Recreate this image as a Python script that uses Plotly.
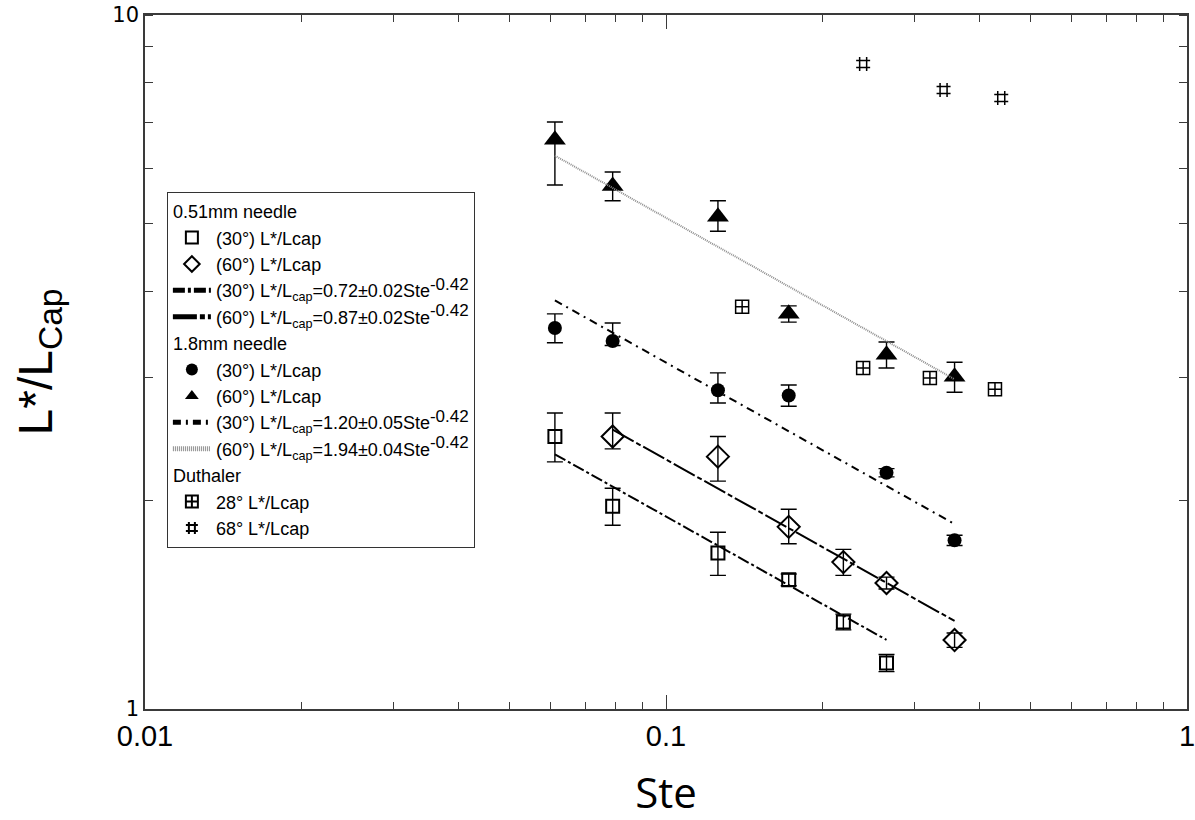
import plotly.graph_objects as go

# ---- 0.51 mm needle -------------------------------------------------------
ste_a30 = [0.0612, 0.079, 0.1258, 0.172, 0.219, 0.265]
lcap_a30 = [2.47, 1.96, 1.678, 1.535, 1.335, 1.165]
err_a30 = [0.20, 0.12, 0.12, 0.03, 0.035, 0.033]

ste_a60 = [0.079, 0.1258, 0.172, 0.219, 0.265, 0.358]
lcap_a60 = [2.47, 2.31, 1.83, 1.628, 1.519, 1.257]
err_a60_up = [0.20, 0.16, 0.11, 0.07, 0.03, 0.03]
err_a60_dn = [0.10, 0.18, 0.10, 0.07, 0.03, 0.03]

# ---- 1.8 mm needle --------------------------------------------------------
ste_b30 = [0.0612, 0.079, 0.1258, 0.172, 0.265, 0.358]
lcap_b30 = [3.54, 3.39, 2.88, 2.83, 2.19, 1.75]
err_b30_up = [0.17, 0.21, 0.17, 0.10, 0.03, 0.03]
err_b30_dn = [0.17, 0.05, 0.12, 0.10, 0.03, 0.03]

ste_b60 = [0.0612, 0.079, 0.1258, 0.172, 0.265, 0.358]
lcap_b60 = [6.61, 5.67, 5.12, 3.71, 3.24, 3.01]
err_b60_up = [0.40, 0.27, 0.28, 0.10, 0.14, 0.15]
err_b60_dn = [0.92, 0.27, 0.24, 0.10, 0.14, 0.15]

# ---- Duthaler -------------------------------------------------------------
ste_d28 = [0.140, 0.239, 0.321, 0.428]
lcap_d28 = [3.80, 3.10, 3.00, 2.89]
ste_d68 = [0.239, 0.341, 0.440]
lcap_d68 = [8.50, 7.80, 7.59]

# ---- power-law fits  L*/Lcap = a * Ste^b ----------------------------------
fit_exp = -0.42
fit_a30, fit_a60, fit_b30, fit_b60 = 0.72, 0.87, 1.20, 1.94
fit_range_a30 = [0.0612, 0.265]
fit_range_a60 = [0.079, 0.358]
fit_range_b30 = [0.0612, 0.358]
fit_range_b60 = [0.0612, 0.358]


def power_fit(a, xr):
    return xr, [a * x ** fit_exp for x in xr]


def fit_label(angle, coef):
    return (f"({angle}°) L*/L<sub>cap</sub>={coef}Ste"
            f"<sup><span style='font-size:17px'>{fit_exp:.2f}</span></sup>")


BLACK = "#000000"
LEG_FONT = dict(family="Liberation Sans, Arial, sans-serif", size=18, color=BLACK)


def err(up, dn=None):
    d = dict(type="data", array=up, color=BLACK, thickness=1.4, width=8, visible=True)
    if dn is not None:
        d["symmetric"] = False
        d["arrayminus"] = dn
    return d


fig = go.Figure()

# group: 0.51 mm needle
fig.add_trace(go.Scatter(
    x=ste_a30, y=lcap_a30, mode="markers", name="(30°) L*/Lcap",
    legendgroup="a", legendgrouptitle=dict(text="0.51mm needle", font=LEG_FONT),
    marker=dict(symbol="square-open", size=13, color=BLACK, line=dict(width=2, color=BLACK)),
    error_y=err(err_a30)))
fig.add_trace(go.Scatter(
    x=ste_a60, y=lcap_a60, mode="markers", name="(60°) L*/Lcap", legendgroup="a",
    marker=dict(symbol="diamond-open", size=17, color=BLACK, line=dict(width=2, color=BLACK)),
    error_y=err(err_a60_up, err_a60_dn)))
x, y = power_fit(fit_a30, fit_range_a30)
fig.add_trace(go.Scatter(
    x=x, y=y, mode="lines", legendgroup="a", name=fit_label(30, "0.72±0.02"),
    line=dict(color=BLACK, width=2, dash="12px,3px,3px,3px")))
x, y = power_fit(fit_a60, fit_range_a60)
fig.add_trace(go.Scatter(
    x=x, y=y, mode="lines", legendgroup="a", name=fit_label(60, "0.87±0.02"),
    line=dict(color=BLACK, width=2, dash="24px,3px,5px,3px")))

# group: 1.8 mm needle
fig.add_trace(go.Scatter(
    x=ste_b30, y=lcap_b30, mode="markers", name="(30°) L*/Lcap",
    legendgroup="b", legendgrouptitle=dict(text="1.8mm needle", font=LEG_FONT),
    marker=dict(symbol="circle", size=14, color=BLACK),
    error_y=err(err_b30_up, err_b30_dn)))
fig.add_trace(go.Scatter(
    x=ste_b60, y=lcap_b60, mode="markers", name="(60°) L*/Lcap", legendgroup="b",
    marker=dict(symbol="triangle-up", size=19, color=BLACK),
    error_y=err(err_b60_up, err_b60_dn)))
x, y = power_fit(fit_b30, fit_range_b30)
fig.add_trace(go.Scatter(
    x=x, y=y, mode="lines", legendgroup="b", name=fit_label(30, "1.20±0.05"),
    line=dict(color=BLACK, width=2, dash="8px,5px,2px,5px")))
x, y = power_fit(fit_b60, fit_range_b60)
fig.add_trace(go.Scatter(
    x=x, y=y, mode="lines", legendgroup="b", name=fit_label(60, "1.94±0.04"),
    line=dict(color="#8c8c8c", width=2, dash="1px,1px")))

# group: Duthaler
fig.add_trace(go.Scatter(
    x=ste_d28, y=lcap_d28, mode="markers", name="28° L*/Lcap",
    legendgroup="c", legendgrouptitle=dict(text="Duthaler", font=LEG_FONT),
    marker=dict(symbol="square-cross-open", size=13, color=BLACK, line=dict(width=1.5, color=BLACK))))
fig.add_trace(go.Scatter(
    x=ste_d68, y=lcap_d68, mode="markers", name="68° L*/Lcap", legendgroup="c",
    marker=dict(symbol="hash-open", size=14, color=BLACK, line=dict(width=1.5, color=BLACK))))

AXIS_COLOR = "#3a3a3a"

fig.update_xaxes(
    type="log", range=[-2, 0], automargin=False,
    showline=True, linecolor=AXIS_COLOR, linewidth=1.5, mirror="ticks",
    tickvals=[0.01, 0.1, 1], ticktext=["0.01", "0.1", "1"],
    ticks="inside", ticklen=14, tickwidth=1.3, tickcolor=AXIS_COLOR,
    minor=dict(ticks="inside", ticklen=7, tickwidth=1.3, tickcolor=AXIS_COLOR, dtick="D1", showgrid=False),
    showgrid=False, zeroline=False, ticklabeloverflow="allow",
    tickfont=dict(family="Liberation Sans Narrow, Liberation Sans, sans-serif", size=29, color=BLACK),
    title=dict(text="Ste", standoff=28,
               font=dict(family="Open Sans, sans-serif", size=42, color=BLACK)),
)
fig.update_yaxes(
    type="log", range=[0, 1], automargin=False,
    showline=True, linecolor=AXIS_COLOR, linewidth=1.5, mirror="ticks",
    tickvals=[1, 10], ticktext=["1", "10"],
    ticks="", ticklabeloverflow="allow",
    minor=dict(ticks="inside", ticklen=8, tickwidth=1.3, tickcolor=AXIS_COLOR, dtick="D1", showgrid=False),
    showgrid=False, zeroline=False,
    tickfont=dict(family="DejaVu Sans, sans-serif", size=21, color=BLACK),
    title=dict(text="L*/L<sub>Cap</sub>", standoff=45,
               font=dict(family="Liberation Sans, Arial, sans-serif", size=48, color=BLACK)),
)

fig.update_layout(
    width=1195, height=820,
    margin=dict(l=145, r=8, t=15, b=111, autoexpand=False),
    paper_bgcolor="white", plot_bgcolor="white",
    showlegend=True,
    legend=dict(
        x=0.021, y=0.745, xanchor="left", yanchor="top",
        bgcolor="white", bordercolor="#333333", borderwidth=1,
        font=LEG_FONT, tracegroupgap=0, itemsizing="constant",
        itemwidth=38,
    ),
)

fig.write_html("out.html")
